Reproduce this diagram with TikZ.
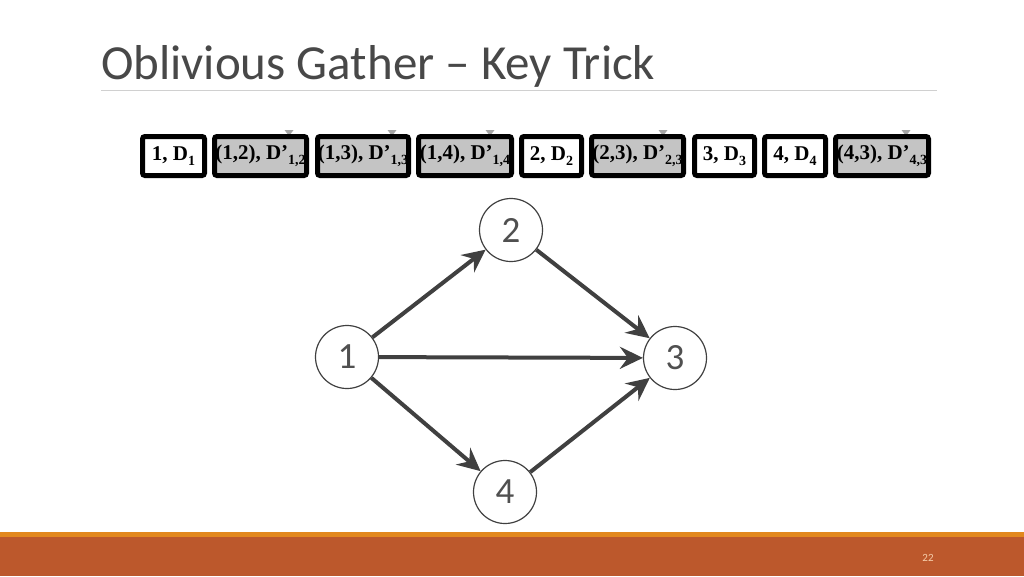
\documentclass[tikz,border=0pt]{standalone}
\usepackage{fontspec}
\setmainfont{Liberation Serif}
\newfontfamily\calibri{Carlito}
\usetikzlibrary{arrows.meta}
\definecolor{boxgray}{RGB}{196,196,196}
\definecolor{titlegray}{RGB}{72,72,72}
\definecolor{rulegray}{RGB}{208,208,208}
\definecolor{vtxline}{RGB}{64,64,64}
\definecolor{numgray}{RGB}{80,80,80}
\definecolor{arrowgray}{RGB}{64,64,64}
\definecolor{tickgray}{RGB}{165,165,165}
\definecolor{bandorange}{RGB}{226,136,30}
\definecolor{bandrust}{RGB}{188,88,44}
\definecolor{pagenum}{RGB}{246,205,170}
\newcommand\mysub[1]{\raisebox{-0.5ex}{\fontsize{14}{14}\selectfont #1}}
\begin{document}
\begin{tikzpicture}[x=1pt,y=-1pt,
  recbox/.style={draw=black, line width=5pt, rounded corners=2.5pt, minimum height=39pt, inner sep=0pt, font=\bfseries\fontsize{21}{21}\selectfont},
  edgebox/.style={recbox, fill=boxgray},
  vertbox/.style={recbox, fill=white},
  vtx/.style={circle, draw=vtxline, line width=1.2pt, fill=white, minimum size=63pt, inner sep=0pt, font=\calibri\fontsize{37}{37}\selectfont, text=numgray},
  conn/.style={draw=arrowgray, line width=4pt, -{Stealth[length=23pt,width=22pt,inset=8pt]}},
  tickmark/.style={fill=tickgray}
]
\useasboundingbox[fill=white] (0,0) rectangle (1024,576);
% title
\node[anchor=base west, inner sep=0pt, font=\calibri\fontsize{49}{49}\selectfont, text=titlegray] (title) at (101,79) {Oblivious Gather – Key Trick};
\draw[rulegray, line width=1pt] (101,90) -- (937,90);
% tick marks
\foreach \x in {289,392,490,663,906} {\fill[tickmark] (\x-4.5,130) -- (\x+4.5,130) -- (\x,136) -- cycle;}
% boxes
\node[vertbox, minimum width=62pt] (b1) at (173.5,156) {1, D\mysub{1}};
\node[edgebox, minimum width=92pt] (b2) at (260.5,156) {(1,2), D’\mysub{1,2}};
\node[edgebox, minimum width=91pt] (b3) at (363,156) {(1,3), D’\mysub{1,3}};
\node[edgebox, minimum width=93pt] (b4) at (465,156) {(1,4), D’\mysub{1,4}};
\node[vertbox, minimum width=60pt] (b5) at (551.5,156) {2, D\mysub{2}};
\node[edgebox, minimum width=92pt] (b6) at (637.5,156) {(2,3), D’\mysub{2,3}};
\node[vertbox, minimum width=60pt] (b7) at (724.5,156) {3, D\mysub{3}};
\node[vertbox, minimum width=61pt] (b8) at (795,156) {4, D\mysub{4}};
\node[edgebox, minimum width=93pt] (b9) at (882,156) {(4,3), D’\mysub{4,3}};
% graph
\node[vtx] (n1) at (347,357) {1};
\node[vtx] (n2) at (511,230) {2};
\node[vtx] (n3) at (675,358) {3};
\node[vtx] (n4) at (505,492) {4};
\draw[conn] (n1) -- (n2);
\draw[conn] (n2) -- (n3);
\draw[conn] (n1) -- (n3);
\draw[conn] (n1) -- (n4);
\draw[conn] (n4) -- (n3);
% footer
\fill[bandorange] (0,532) rectangle (1024,537);
\fill[bandrust] (0,537) rectangle (1024,576);
\node[font=\calibri\fontsize{11}{11}\selectfont, text=pagenum] (pg) at (928,558) {22};
\end{tikzpicture}
\end{document}
